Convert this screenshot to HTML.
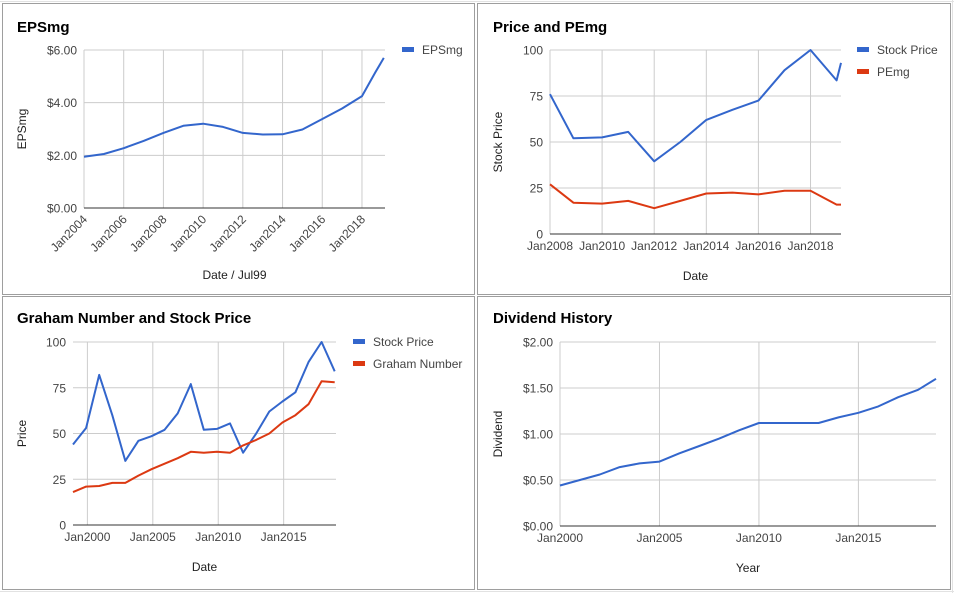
<!DOCTYPE html>
<html><head><meta charset="utf-8"><style>
html,body{margin:0;padding:0;background:#fff;}
svg{display:block;font-family:"Liberation Sans",Arial,sans-serif;}
</style></head><body>
<svg id="s" width="954" height="593" viewBox="0 0 954 593">
<g stroke="#e2e2e2" stroke-width="1">
<line x1="0" y1="1.5" x2="954" y2="1.5"/><line x1="0" y1="591.5" x2="954" y2="591.5"/>
<line x1="952.5" y1="0" x2="952.5" y2="593"/>
</g>
<rect x="2.5" y="3.5" width="472" height="291" fill="#fff" stroke="#9e9e9e"/>
<rect x="477.5" y="3.5" width="473" height="291" fill="#fff" stroke="#9e9e9e"/>
<rect x="2.5" y="296.5" width="472" height="293" fill="#fff" stroke="#9e9e9e"/>
<rect x="477.5" y="296.5" width="473" height="293" fill="#fff" stroke="#9e9e9e"/>
</svg>
<script>
// ---- data ----
const epsYears=[2004,2005,2006,2007,2008,2009,2010,2011,2012,2013,2014,2015,2016,2017,2018,2018.67,2019.1];
const epsValues=[1.95,2.05,2.27,2.55,2.85,3.12,3.2,3.08,2.85,2.79,2.8,2.98,3.38,3.78,4.25,5.15,5.7];
const epsTicks=["$0.00","$2.00","$4.00","$6.00"];
const epsXTicks=["Jan2004","Jan2006","Jan2008","Jan2010","Jan2012","Jan2014","Jan2016","Jan2018"];

const pYears=[2008,2008.9,2010,2011,2012,2013,2014,2015,2016,2017,2018,2019,2019.17];
const pStock=[76,52,52.5,55.5,39.5,50,62,67.5,72.5,89,100,83.5,93];
const pPE=[27,17,16.5,18,14,18,22,22.5,21.5,23.5,23.5,16,16];
const pXTicks=["Jan2008","Jan2010","Jan2012","Jan2014","Jan2016","Jan2018"];
const numTicks=["0","25","50","75","100"];

const gYears=[1998.9,1999.9,2000.9,2001.9,2002.9,2003.9,2004.9,2005.9,2006.9,2007.9,2008.9,2009.9,2010.9,2011.9,2012.9,2013.9,2014.9,2015.9,2016.9,2017.9,2018.9];
const gStock=[44,53,82,60,35,46,48.5,52,61,77,52,52.5,55.5,39.5,50,62,67.5,72.5,89,100,84];
const gGraham=[18,21,21.3,23,23,27,30.5,33.5,36.5,40,39.5,40,39.5,43.5,46.5,50,56,60,66,78.5,78];
const gXTicks=["Jan2000","Jan2005","Jan2010","Jan2015"];

const dYears=[2000,2001,2002,2003,2004,2005,2006,2007,2008,2009,2010,2011,2012,2013,2014,2015,2016,2017,2018,2018.9];
const dValues=[0.44,0.50,0.56,0.64,0.68,0.70,0.79,0.87,0.95,1.04,1.12,1.12,1.12,1.12,1.18,1.23,1.30,1.40,1.48,1.60];
const dTicks=["$0.00","$0.50","$1.00","$1.50","$2.00"];
const dXTicks=["Jan2000","Jan2005","Jan2010","Jan2015"];

const NS="http://www.w3.org/2000/svg", S=document.getElementById('s');
function el(t,a,p,txt){const e=document.createElementNS(NS,t);for(const k in a)e.setAttribute(k,a[k]);if(txt!=null)e.textContent=txt;(p||S).appendChild(e);return e;}
const BLUE="#3366cc", RED="#dc3912";

function chart(c){
  const g=el('g',{});
  
  
  const sx=v=>c.x0+(v-c.d0)/(c.d1-c.d0)*(c.x1-c.x0);
  const sy=v=>c.y0-(v-c.v0)/(c.v1-c.v0)*(c.y0-c.y1);
  const t=el('text',{x:c.tx,y:c.ty,'font-size':'15','font-weight':'bold',fill:'#000'},g,c.title);
  
  // horizontal grid + y labels
  c.yTicks.forEach((lab,i)=>{
    const v=c.v0+(c.v1-c.v0)*i/(c.yTicks.length-1), y=sy(v);
    if(i>0){const l=el('line',{x1:c.x0,x2:c.x1,y1:y,y2:y,stroke:'#cccccc'},g);}
    const tt=el('text',{x:c.x0-7,y:y+4.5,'font-size':'12',fill:'#444','text-anchor':'end'},g,lab);
    
  });
  // vertical grid + x labels
  c.xTicks.forEach((lab,i)=>{
    const v=c.xs+c.xstep*i, x=sx(v);
    const l=el('line',{x1:x,x2:x,y1:c.y1,y2:c.y0,stroke:'#cccccc'},g);
    
    let tt;
    if(c.rot){tt=el('text',{x:x+4,y:c.y0+12,'font-size':'12',fill:'#444','text-anchor':'end',transform:`rotate(-45 ${x+4} ${c.y0+12})`},g,lab);}
    else tt=el('text',{x:x,y:c.y0+16,'font-size':'12',fill:'#444','text-anchor':'middle'},g,lab);
    
  });
  const base=el('line',{x1:c.x0,x2:c.x1,y1:c.y0,y2:c.y0,stroke:'#333'},g);
  
  const xt=el('text',{x:(c.x0+c.x1)/2,y:c.xty,'font-size':'12',fill:'#222','text-anchor':'middle'},g,c.xTitle);
  
  const yt=el('text',{x:c.ytx,y:(c.y0+c.y1)/2,'font-size':'12',fill:'#222','text-anchor':'middle',transform:`rotate(-90 ${c.ytx} ${(c.y0+c.y1)/2})`},g,c.yTitle);
  
  c.series.forEach((s,k)=>{
    const pts=s.vals.map((v,i)=>sx(c.years[i]).toFixed(1)+','+sy(v).toFixed(1)).join(' ');
    const p=el('polyline',{points:pts,fill:'none',stroke:s.color,'stroke-width':'2','stroke-linejoin':'round'},g);
    
    if(s.leg){
      const lg=el('g',{},g);
      
      el('rect',{x:c.lx,y:c.ly+k*22-3,width:12,height:5,fill:s.color},lg);
      el('text',{x:c.lx+20,y:c.ly+k*22+4,'font-size':'12',fill:'#444'},lg,s.label);
    }
  });
}
chart({name:'epsmg-chart',title:'EPSmg',tx:17,ty:32,x0:84,x1:385,y0:208,y1:50,d0:2004,d1:2019.16,v0:0,v1:6,
  yTicks:epsTicks,xTicks:epsXTicks,xs:2004,xstep:2,rot:true,xTitle:'Date / Jul99',xty:279,yTitle:'EPSmg',ytx:26,
  years:epsYears,lx:402,ly:50,series:[{key:'epsmg',vals:epsValues,color:BLUE,label:'EPSmg',leg:true}]});
chart({name:'price-pemg-chart',title:'Price and PEmg',tx:493,ty:32,x0:550,x1:841,y0:234,y1:50,d0:2008,d1:2019.17,v0:0,v1:100,
  yTicks:numTicks,xTicks:pXTicks,xs:2008,xstep:2,rot:false,xTitle:'Date',xty:280,yTitle:'Stock Price',ytx:502,
  years:pYears,lx:857,ly:50,series:[{key:'stock-price',vals:pStock,color:BLUE,label:'Stock Price',leg:true},{key:'pemg',vals:pPE,color:RED,label:'PEmg',leg:true}]});
chart({name:'graham-chart',title:'Graham Number and Stock Price',tx:17,ty:323,x0:73,x1:336,y0:525,y1:342,d0:1998.9,d1:2019.0,v0:0,v1:100,
  yTicks:numTicks,xTicks:gXTicks,xs:2000,xstep:5,rot:false,xTitle:'Date',xty:571,yTitle:'Price',ytx:26,
  years:gYears,lx:353,ly:342,series:[{key:'stock-price',vals:gStock,color:BLUE,label:'Stock Price',leg:true},{key:'graham-number',vals:gGraham,color:RED,label:'Graham Number',leg:true}]});
chart({name:'dividend-chart',title:'Dividend History',tx:493,ty:323,x0:560,x1:936,y0:526,y1:342,d0:2000,d1:2018.9,v0:0,v1:2,
  yTicks:dTicks,xTicks:dXTicks,xs:2000,xstep:5,rot:false,xTitle:'Year',xty:572,yTitle:'Dividend',ytx:502,
  years:dYears,series:[{key:'dividend',vals:dValues,color:BLUE,label:'Dividend',leg:false}]});
</script>
</body></html>
